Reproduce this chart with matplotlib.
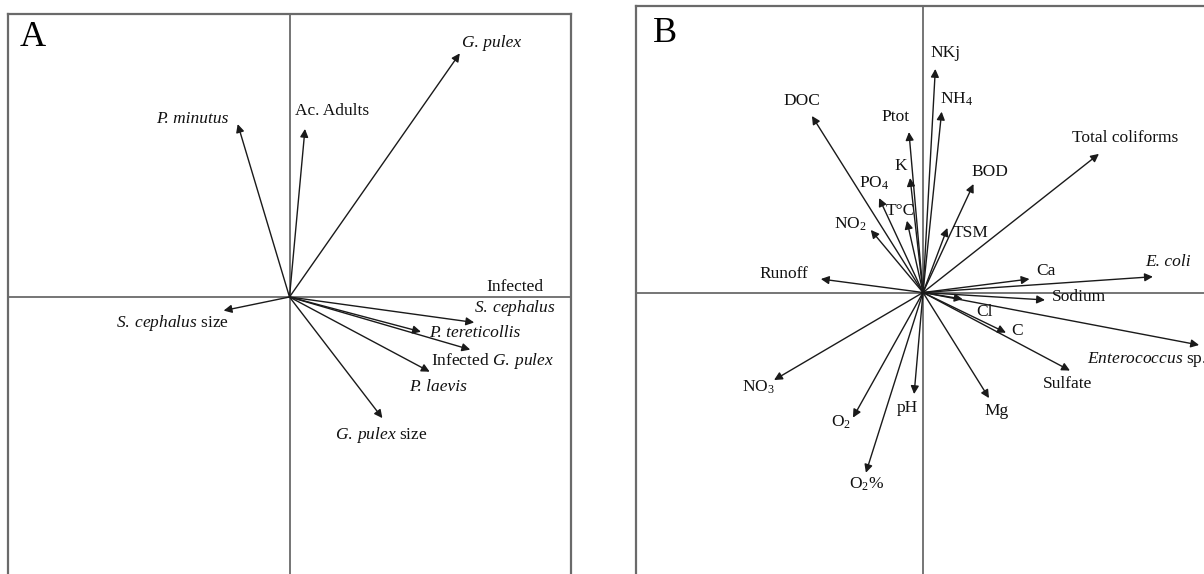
import matplotlib.pyplot as plt

plt.rcParams['font.family'] = ['Liberation Serif', 'DejaVu Serif']
plt.rcParams['mathtext.fontset'] = 'custom'
plt.rcParams['mathtext.rm'] = 'Liberation Serif'
plt.rcParams['mathtext.it'] = 'Liberation Serif:italic'

# panel A : parasite / host variables (loadings on the two axes)
a_names = ['G. pulex', 'P. minutus', 'Ac. Adults', r'$\mathit{S.\:cephalus}$ size',
           'Infected\n' + r'$\mathit{S.\:cephalus}$', 'P. tereticollis',
           r'Infected $\mathit{G.\:pulex}$', 'P. laevis', r'$\mathit{G.\:pulex}$ size']
a_x = [0.605, -0.184, 0.055, -0.234, 0.656, 0.467, 0.642, 0.498, 0.330]
a_y = [0.861, 0.611, 0.594, -0.048, -0.090, -0.123, -0.186, -0.264, -0.428]

# panel B : environmental variables
b_names = ['NKj', r'NH$_4$', 'DOC', 'Ptot', 'Total coliforms', 'K', 'BOD', r'PO$_4$',
           'T°C', r'NO$_2$', 'TSM', 'Runoff', 'Ca', 'E. coli', 'Sodium', 'Cl', 'C',
           r'$\mathit{Enterococcus}$ sp.', 'Sulfate', r'NO$_3$', r'O$_2$', 'pH', 'Mg',
           r'O$_2$%']
b_x = [0.043, 0.065, -0.387, -0.049, 0.613, -0.045, 0.176, -0.153, -0.056, -0.182,
       0.085, -0.356, 0.371, 0.801, 0.425, 0.138, 0.289, 0.962, 0.512, -0.519,
       -0.244, -0.031, 0.230, -0.199]
b_y = [0.779, 0.630, 0.615, 0.559, 0.483, 0.399, 0.378, 0.329, 0.250, 0.218,
       0.225, 0.047, 0.047, 0.055, -0.026, -0.023, -0.140, -0.183, -0.272, -0.305,
       -0.436, -0.354, -0.368, -0.628]

# label placement (pixel offset from arrow tip, alignment, italic)
a_lab = [(2, 10, 'left', True), (-9, 5, 'right', True), (-10, 18, 'left', False),
         (5, -12, 'right', False), (41, 24, 'center', False), (8, -1.5, 'left', True),
         (-39, -11.5, 'left', False), (8.5, -15.5, 'center', True), (-1, -17, 'center', False)]
b_lab = [(10, 16, 'center'), (14.5, 12.7, 'center'), (-10.5, 15.3, 'center'),
         (-13, 15, 'center'), (26, 16, 'center'), (-9, 12, 'center'), (16.4, 12, 'center'),
         (-5.3, 15, 'center'), (-7, 10, 'center'), (-20.7, 6, 'center'), (5.5, -5, 'left'),
         (-12.7, 5, 'right'), (6.4, 8, 'left'), (15, 14.7, 'center'), (7, 3, 'left'),
         (22.3, -12.7, 'center'), (5.7, 2, 'left'), (-112, -14, 'left'),
         (-2.5, -13.3, 'center'), (-16, -7, 'center'), (-11.5, -5, 'center'),
         (-6.6, -14, 'center'), (7.7, -13, 'center'), (0.7, -11.3, 'center')]

fig = plt.figure(figsize=(12.04, 5.74), dpi=100)
axA = fig.add_axes([8 / 1204, -6 / 574, 563 / 1204, 566 / 574])
axB = fig.add_axes([636 / 1204, -5.5 / 574, 574 / 1204, 574 / 574])

arrow = dict(arrowstyle='-|>', color='#1a1a1a', lw=1.0, mutation_scale=12,
             shrinkA=0, shrinkB=0)


def setup(ax, letter, lx, ly):
    ax.set_xlim(-1, 1)
    ax.set_ylim(-1, 1)
    ax.set_xticks([])
    ax.set_yticks([])
    for s in ax.spines.values():
        s.set_color('#6a6a6a')
        s.set_linewidth(1.6)
    ax.axhline(0, color='#6a6a6a', lw=1.3, zorder=1)
    ax.axvline(0, color='#6a6a6a', lw=1.3, zorder=1)
    ax.text(lx, ly, letter, transform=ax.transAxes, fontsize=26,
            ha='center', va='center')


setup(axA, 'A', 0.043, 0.958)
setup(axB, 'B', 0.051, 0.951)

for name, x, y, (dx, dy, ha, it) in zip(a_names, a_x, a_y, a_lab):
    axA.annotate('', xy=(x, y), xytext=(0, 0), arrowprops=arrow)
    axA.annotate(name, xy=(x, y), xytext=(dx, dy), textcoords='offset pixels',
                 ha=ha, va='center', fontsize=12.5, color='#111111',
                 fontstyle='italic' if it else 'normal', multialignment='center')

for name, x, y, (dx, dy, ha) in zip(b_names, b_x, b_y, b_lab):
    axB.annotate('', xy=(x, y), xytext=(0, 0), arrowprops=arrow)
    axB.annotate(name, xy=(x, y), xytext=(dx, dy), textcoords='offset pixels',
                 ha=ha, va='center', fontsize=12.5, color='#111111',
                 fontstyle='italic' if name == 'E. coli' else 'normal',
                 annotation_clip=False)

fig.savefig('out.png', dpi=100)
